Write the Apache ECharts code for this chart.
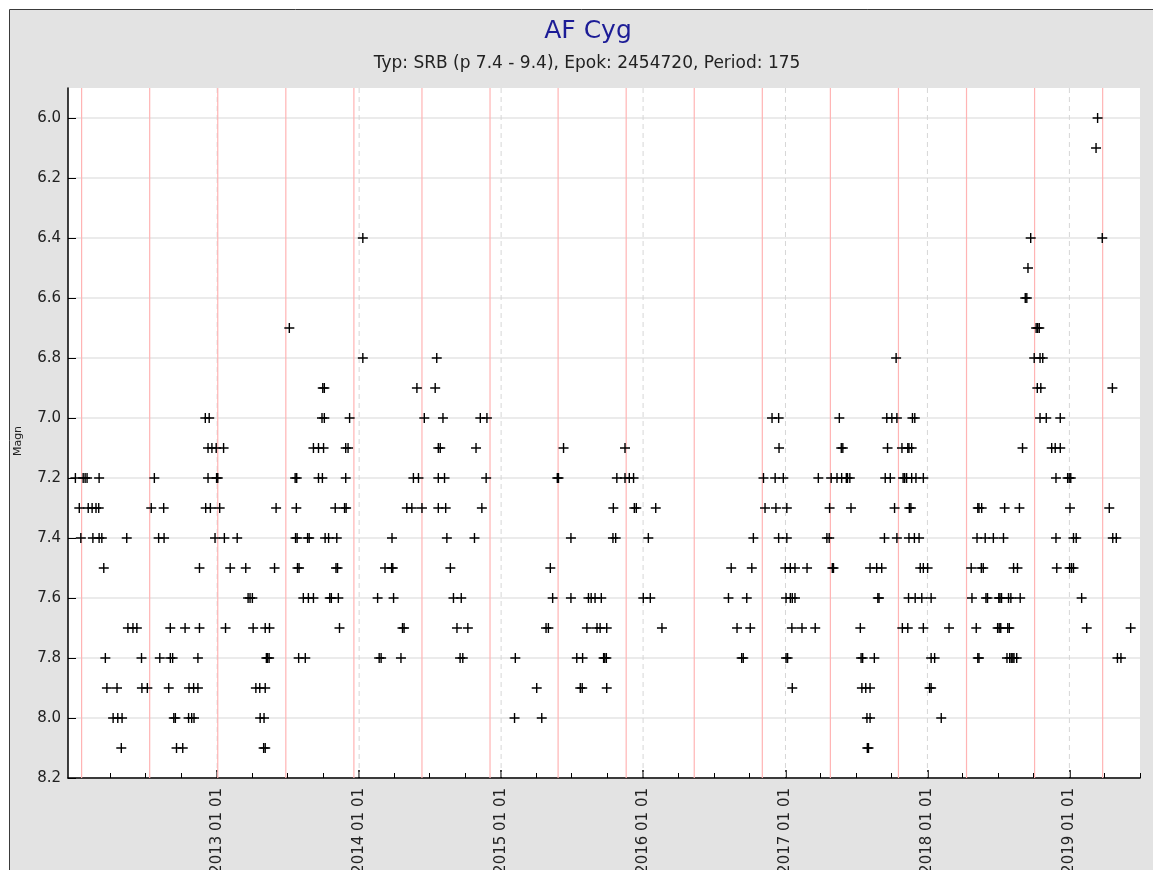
<!DOCTYPE html>
<html>
<head>
<meta charset="utf-8">
<title>AF Cyg</title>
<script src="https://cdn.jsdelivr.net/npm/echarts@6/dist/echarts.min.js"></script>
<style>
  html, body { margin: 0; padding: 0; background: #ffffff; }
  #chart { width: 1153px; height: 870px; }
</style>
</head>
<body>
<div id="chart"></div>
<script>
// ---- star and light-curve parameters ----
const starName = 'AF Cyg';
const subtitleText = 'Typ: SRB (p 7.4 - 9.4), Epok: 2454720, Period: 175';
const epochJD = 2454720;      // reference epoch (JD)
const periodDays = 175;       // period in days
const JD_BASE = 2450000;      // observation times below are JD - 2450000
const xRange = [5910, 8666];  // plotted time span, JD - 2450000
const yRange = [5.9, 8.2];    // magnitude span (inverted axis)
const yTicks = [6.0, 6.2, 6.4, 6.6, 6.8, 7.0, 7.2, 7.4, 7.6, 7.8, 8.0, 8.2];
const yAxisName = 'Magn';

// ---- visual estimates, one array per observing season: [JD - 2450000, magnitude] ----
const season2012 = [
  [6263, 7.0], [6273, 7.0],
  [6270, 7.1], [6280, 7.1], [6291, 7.1], [6310, 7.1],
  [5929, 7.2], [5949, 7.2], [5954, 7.2], [5959, 7.2], [5990, 7.2], [6132, 7.2], [6270, 7.2], [6292, 7.2], [6295, 7.2],
  [5939, 7.3], [5962, 7.3], [5972, 7.3], [5982, 7.3], [5989, 7.3], [6124, 7.3], [6156, 7.3], [6264, 7.3], [6276, 7.3], [6300, 7.3],
  [5943, 7.4], [5974, 7.4], [5990, 7.4], [5997, 7.4], [6061, 7.4], [6143, 7.4], [6157, 7.4], [6288, 7.4], [6312, 7.4], [6345, 7.4],
  [6002, 7.5], [6248, 7.5], [6327, 7.5], [6367, 7.5],
  [6373, 7.6], [6378, 7.6], [6384, 7.6],
  [6064, 7.7], [6077, 7.7], [6087, 7.7], [6173, 7.7], [6211, 7.7], [6248, 7.7], [6315, 7.7], [6386, 7.7], [6417, 7.7], [6428, 7.7],
  [6006, 7.8], [6099, 7.8], [6146, 7.8], [6173, 7.8], [6179, 7.8], [6244, 7.8], [6420, 7.8], [6423, 7.8], [6427, 7.8],
  [6010, 7.9], [6036, 7.9], [6100, 7.9], [6114, 7.9], [6169, 7.9], [6221, 7.9], [6233, 7.9], [6244, 7.9], [6393, 7.9], [6403, 7.9], [6417, 7.9],
  [6026, 8.0], [6038, 8.0], [6049, 8.0], [6182, 8.0], [6186, 8.0], [6220, 8.0], [6228, 8.0], [6234, 8.0], [6404, 8.0], [6414, 8.0],
  [6047, 8.1], [6189, 8.1], [6205, 8.1], [6413, 8.1], [6417, 8.1]
];

const season2013 = [
  [6668, 6.4], [6479, 6.7], [6668, 6.8],
  [6565, 6.9], [6569, 6.9],
  [6563, 7.0], [6569, 7.0], [6634, 7.0],
  [6541, 7.1], [6554, 7.1], [6567, 7.1], [6624, 7.1], [6630, 7.1],
  [6494, 7.2], [6498, 7.2], [6554, 7.2], [6564, 7.2], [6624, 7.2],
  [6445, 7.3], [6497, 7.3], [6597, 7.3], [6621, 7.3], [6625, 7.3],
  [6495, 7.4], [6499, 7.4], [6526, 7.4], [6530, 7.4], [6571, 7.4], [6580, 7.4], [6601, 7.4],
  [6441, 7.5], [6500, 7.5], [6504, 7.5], [6599, 7.5], [6603, 7.5],
  [6515, 7.6], [6528, 7.6], [6541, 7.6], [6583, 7.6], [6587, 7.6], [6605, 7.6],
  [6608, 7.7],
  [6503, 7.8], [6520, 7.8]
];

const season2014 = [
  [6858, 6.8],
  [6807, 6.9], [6854, 6.9],
  [6826, 7.0], [6874, 7.0], [6970, 7.0], [6987, 7.0],
  [6862, 7.1], [6867, 7.1], [6959, 7.1],
  [6798, 7.2], [6811, 7.2], [6862, 7.2], [6878, 7.2], [6985, 7.2],
  [6781, 7.3], [6794, 7.3], [6820, 7.3], [6862, 7.3], [6881, 7.3], [6974, 7.3],
  [6743, 7.4], [6884, 7.4], [6955, 7.4],
  [6725, 7.5], [6742, 7.5], [6745, 7.5], [6893, 7.5],
  [6706, 7.6], [6747, 7.6], [6901, 7.6], [6921, 7.6],
  [6770, 7.7], [6774, 7.7], [6910, 7.7], [6938, 7.7],
  [6710, 7.8], [6715, 7.8], [6766, 7.8], [6918, 7.8], [6925, 7.8]
];

const season2015 = [
  [7184, 7.1], [7342, 7.1],
  [7168, 7.2], [7171, 7.2], [7321, 7.2], [7342, 7.2], [7353, 7.2], [7364, 7.2],
  [7312, 7.3], [7366, 7.3], [7371, 7.3], [7421, 7.3],
  [7203, 7.4], [7311, 7.4], [7318, 7.4], [7402, 7.4],
  [7150, 7.5],
  [7156, 7.6], [7203, 7.6], [7248, 7.6], [7255, 7.6], [7265, 7.6], [7281, 7.6], [7389, 7.6], [7407, 7.6],
  [7139, 7.7], [7145, 7.7], [7244, 7.7], [7270, 7.7], [7278, 7.7], [7295, 7.7], [7437, 7.7],
  [7060, 7.8], [7218, 7.8], [7233, 7.8], [7287, 7.8], [7290, 7.8], [7294, 7.8],
  [7115, 7.9], [7227, 7.9], [7232, 7.9], [7295, 7.9],
  [7058, 8.0], [7128, 8.0]
];

const season2016 = [
  [7720, 7.0], [7737, 7.0], [7893, 7.0],
  [7738, 7.1], [7898, 7.1], [7902, 7.1],
  [7698, 7.2], [7728, 7.2], [7749, 7.2], [7839, 7.2], [7872, 7.2], [7887, 7.2], [7899, 7.2], [7911, 7.2], [7914, 7.2], [7920, 7.2],
  [7702, 7.3], [7730, 7.3], [7758, 7.3], [7868, 7.3], [7923, 7.3],
  [7672, 7.4], [7737, 7.4], [7758, 7.4], [7861, 7.4], [7867, 7.4],
  [7615, 7.5], [7668, 7.5], [7754, 7.5], [7767, 7.5], [7779, 7.5], [7810, 7.5], [7875, 7.5], [7878, 7.5],
  [7608, 7.6], [7655, 7.6], [7756, 7.6], [7767, 7.6], [7772, 7.6], [7779, 7.6],
  [7630, 7.7], [7664, 7.7], [7771, 7.7], [7797, 7.7], [7831, 7.7], [7947, 7.7],
  [7642, 7.8], [7646, 7.8], [7756, 7.8], [7760, 7.8], [7949, 7.8], [7953, 7.8],
  [7772, 7.9], [7951, 7.9], [7961, 7.9], [7972, 7.9],
  [7964, 8.0], [7972, 8.0],
  [7965, 8.1], [7968, 8.1]
];

const season2017 = [
  [8039, 6.8],
  [8015, 7.0], [8028, 7.0], [8041, 7.0], [8081, 7.0], [8087, 7.0],
  [8017, 7.1], [8054, 7.1], [8069, 7.1], [8072, 7.1], [8079, 7.1],
  [8011, 7.2], [8024, 7.2], [8057, 7.2], [8061, 7.2], [8066, 7.2], [8079, 7.2], [8090, 7.2], [8109, 7.2],
  [8035, 7.3], [8073, 7.3], [8077, 7.3],
  [8009, 7.4], [8041, 7.4], [8072, 7.4], [8086, 7.4], [8098, 7.4],
  [7972, 7.5], [7989, 7.5], [8002, 7.5], [8101, 7.5], [8109, 7.5], [8120, 7.5],
  [7992, 7.6], [7995, 7.6], [8071, 7.6], [8088, 7.6], [8105, 7.6], [8129, 7.6],
  [8055, 7.7], [8069, 7.7], [8109, 7.7], [8175, 7.7],
  [7983, 7.8], [8129, 7.8], [8138, 7.8],
  [8125, 7.9], [8129, 7.9],
  [8155, 8.0]
];

const season2018 = [
  [8557, 6.0], [8553, 6.1],
  [8385, 6.4], [8569, 6.4],
  [8378, 6.5],
  [8371, 6.6], [8375, 6.6],
  [8399, 6.7], [8403, 6.7], [8407, 6.7],
  [8394, 6.8], [8409, 6.8], [8416, 6.8],
  [8402, 6.9], [8411, 6.9], [8595, 6.9],
  [8409, 7.0], [8425, 7.0], [8461, 7.0],
  [8364, 7.1], [8439, 7.1], [8448, 7.1], [8461, 7.1],
  [8450, 7.2], [8480, 7.2], [8484, 7.2], [8488, 7.2],
  [8249, 7.3], [8252, 7.3], [8259, 7.3], [8318, 7.3], [8356, 7.3], [8486, 7.3], [8587, 7.3],
  [8247, 7.4], [8268, 7.4], [8289, 7.4], [8315, 7.4], [8450, 7.4], [8495, 7.4], [8502, 7.4], [8596, 7.4], [8605, 7.4],
  [8232, 7.5], [8258, 7.5], [8263, 7.5], [8341, 7.5], [8351, 7.5], [8452, 7.5], [8485, 7.5], [8490, 7.5], [8495, 7.5],
  [8234, 7.6], [8270, 7.6], [8274, 7.6], [8303, 7.6], [8306, 7.6], [8310, 7.6], [8328, 7.6], [8334, 7.6], [8358, 7.6], [8516, 7.6],
  [8245, 7.7], [8300, 7.7], [8304, 7.7], [8308, 7.7], [8326, 7.7], [8330, 7.7], [8529, 7.7], [8642, 7.7],
  [8249, 7.8], [8252, 7.8], [8324, 7.8], [8331, 7.8], [8335, 7.8], [8339, 7.8], [8342, 7.8], [8349, 7.8], [8608, 7.8], [8617, 7.8]
];

// ---- date helpers (JD - 2450000 <-> calendar) ----
const MS_PER_DAY = 86400000;
const UNIX_EPOCH_JD = 2440587.5;
function utcToJd(year, month) {
  return Date.UTC(year, month, 1) / MS_PER_DAY + UNIX_EPOCH_JD - JD_BASE;
}
function jdToDate(v) {
  return new Date(Math.round((v + JD_BASE - UNIX_EPOCH_JD) * MS_PER_DAY));
}

// quarter ticks and New Year ticks; ticks hugging the left edge are left out
const edgeGapDays = 30;
const quarterTicks = [];
const yearTicks = [];
for (let y = 2011; y <= 2020; y++) {
  [0, 3, 6, 9].forEach(m => {
    const v = utcToJd(y, m);
    if (v > xRange[0] + edgeGapDays && v < xRange[1]) {
      quarterTicks.push(v);
      if (m === 0) yearTicks.push(v);
    }
  });
}

// phase-zero epochs: epoch + n * period inside the span
const phaseLines = [];
for (let n = Math.ceil((xRange[0] + JD_BASE - epochJD) / periodDays);
     epochJD + n * periodDays - JD_BASE <= xRange[1]; n++) {
  phaseLines.push(epochJD + n * periodDays - JD_BASE);
}

const observations = [].concat(season2012, season2013, season2014, season2015,
                               season2016, season2017, season2018);

// vertical guide lines spanning the plot height
function verticalLines(values, style, z) {
  return {
    type: 'custom',
    xAxisIndex: 0,
    yAxisIndex: 0,
    silent: true,
    clip: true,
    z: z,
    data: values.map(v => [v, yRange[0]]),
    renderItem: function (params, api) {
      const x = api.coord([api.value(0), api.value(1)])[0];
      const cs = params.coordSys;
      return {
        type: 'line',
        shape: { x1: x, y1: cs.y, x2: x, y2: cs.y + cs.height },
        style: style
      };
    }
  };
}

const FONT = 'DejaVu Sans';
const plusPath = 'path://M4.3,0H5.7V4.3H10V5.7H5.7V10H4.3V5.7H0V4.3H4.3Z';

const chart = echarts.init(document.getElementById('chart'), null, { renderer: 'canvas' });

chart.setOption({
  animation: false,
  backgroundColor: '#ffffff',
  textStyle: { fontFamily: FONT },
  graphic: {
    elements: [
      {
        type: 'rect',
        z: -100,
        silent: true,
        shape: { x: 9.5, y: 9.5, width: 1200, height: 900 },
        style: { fill: '#e3e3e3', stroke: '#3a3a3a', lineWidth: 1 }
      },
      {
        type: 'text',
        x: 588, y: 31,
        silent: true,
        style: {
          text: starName, textAlign: 'center', textVerticalAlign: 'middle',
          fontFamily: FONT, fontSize: 25, fill: '#1c1c96'
        }
      },
      {
        type: 'text',
        x: 587, y: 64,
        silent: true,
        style: {
          text: subtitleText, textAlign: 'center', textVerticalAlign: 'middle',
          fontFamily: FONT, fontSize: 17, fill: '#222222'
        }
      },
      {
        type: 'text',
        x: 18, y: 441,
        rotation: Math.PI / 2,
        silent: true,
        style: {
          text: yAxisName, textAlign: 'center', textVerticalAlign: 'middle',
          fontFamily: FONT, fontSize: 11, fill: '#222222'
        }
      }
    ]
  },
  grid: {
    left: 68, top: 88, width: 1072, height: 690,
    containLabel: false,
    outerBoundsMode: 'none',
    show: true, backgroundColor: '#ffffff', borderWidth: 0
  },
  xAxis: [
    {
      type: 'value',
      min: xRange[0], max: xRange[1],
      position: 'bottom',
      axisLine: { show: true, lineStyle: { color: '#000000', width: 1.5 } },
      axisTick: { show: true, inside: true, length: 5, customValues: quarterTicks,
                  lineStyle: { color: '#000000', width: 1 } },
      axisLabel: { show: false },
      splitLine: { show: false }
    },
    {
      type: 'value',
      min: xRange[0], max: xRange[1],
      position: 'bottom',
      offset: 0,
      axisLine: { show: false },
      axisTick: { show: true, inside: true, length: 8, customValues: yearTicks,
                  lineStyle: { color: '#000000', width: 1.5 } },
      axisLabel: {
        show: true, rotate: 90, margin: 10, customValues: yearTicks,
        fontFamily: FONT, fontSize: 15, color: '#222222',
        formatter: v => jdToDate(v).getUTCFullYear() + ' 01 01'
      },
      splitLine: { show: false }
    }
  ],
  yAxis: {
    type: 'value',
    inverse: true,
    min: yRange[0], max: yRange[1],
    axisLine: { show: true, lineStyle: { color: '#000000', width: 1.5 } },
    axisTick: { show: true, inside: true, length: 8, customValues: yTicks,
                lineStyle: { color: '#000000', width: 1 } },
    axisLabel: {
      customValues: yTicks, margin: 7,
      fontFamily: FONT, fontSize: 15, color: '#222222',
      formatter: v => v.toFixed(1)
    },
    splitLine: { show: true, lineStyle: { color: '#e4e4e4', width: 1.5 } }
  },
  series: [
    verticalLines(yearTicks, { stroke: '#d6d6d6', lineWidth: 1, lineDash: [5, 4] }, 1),
    verticalLines(phaseLines, { stroke: '#ffb4b4', lineWidth: 1.2 }, 2),
    {
      type: 'scatter',
      xAxisIndex: 0,
      yAxisIndex: 0,
      z: 5,
      symbol: plusPath,
      symbolSize: 10,
      itemStyle: { color: '#000000', opacity: 1 },
      data: observations
    }
  ]
});
</script>
</body>
</html>
